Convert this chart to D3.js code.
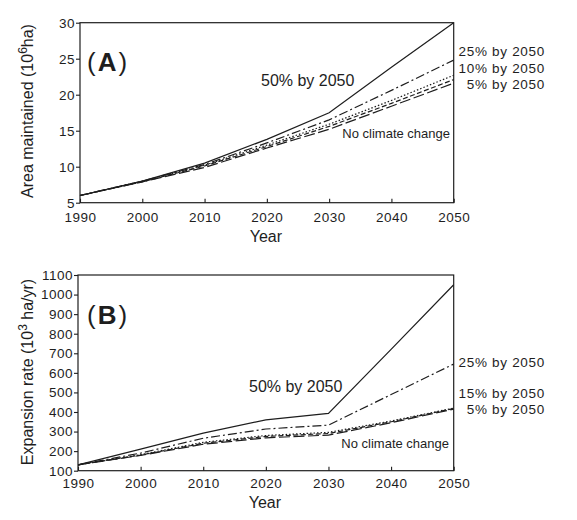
<!DOCTYPE html>
<html>
<head>
<meta charset="utf-8">
<script src="https://cdn.jsdelivr.net/npm/d3@7"></script>
<style>
  body { margin: 0; background: #fff; }
  svg { display: block; font-family: "Liberation Sans", Arial, sans-serif; }
</style>
</head>
<body>
<svg id="chart" width="577" height="520"></svg>
<script>
// Years shared by both panels
const years = [1990, 2000, 2010, 2020, 2030, 2040, 2050];
const yearTicks = [1990, 2000, 2010, 2020, 2030, 2040, 2050];

// Panel A: area maintained (10^6 ha)
const areaTicks = [5, 10, 15, 20, 25, 30];
const area50 = [6.0, 8.0, 10.5, 13.8, 17.5, 23.8, 30.0];
const area25 = [6.0, 8.0, 10.3, 13.3, 16.5, 20.6, 24.8];
const area10 = [6.0, 8.0, 10.2, 13.0, 15.9, 19.2, 22.7];
const area5 = [6.0, 7.9, 10.1, 12.8, 15.6, 18.8, 22.1];
const areaNone = [6.0, 7.9, 9.9, 12.6, 15.2, 18.4, 21.6];

// Panel B: expansion rate (10^3 ha/yr)
const rateTicks = [100, 200, 300, 400, 500, 600, 700, 800, 900, 1000, 1100];
const rate50 = [130, 210, 292, 360, 393, 720, 1050];
const rate25 = [130, 190, 266, 313, 333, 489, 645];
const rate15 = [130, 182, 245, 280, 296, 354, 420];
const rate5 = [130, 180, 240, 275, 290, 350, 418];
const rateNone = [130, 178, 235, 268, 282, 345, 415];

// line styles per scenario
const dashes = {
    s50: null,
    s25: "9,3,2,3",
    s10: "1.5,2",
    s5: "5,2.5",
    none: "11,3.5"
};

const svg = d3.select("#chart");
const ink = "#1e1e1e";

function panel(opt) {
    const x = d3.scaleLinear().domain([1990, 2050]).range([opt.left, 453.7]);
    const y = d3.scaleLinear().domain(opt.yDomain).range([opt.bottom, opt.top]);
    const g = svg.append("g");

    // frame
    g.append("rect")
        .attr("x", opt.left).attr("y", opt.top)
        .attr("width", 453.7 - opt.left).attr("height", opt.bottom - opt.top)
        .attr("fill", "none").attr("stroke", ink).attr("stroke-width", 1.2);

    // left axis, outward ticks
    const ay = g.append("g")
        .attr("transform", `translate(${opt.left},0)`)
        .call(d3.axisLeft(y).tickValues(opt.yTicks).tickSize(4).tickPadding(1)
            .tickFormat(d3.format("d")));
    ay.select(".domain").remove();
    ay.selectAll("line").attr("stroke", ink).attr("stroke-width", 1.1);
    ay.selectAll("text").attr("fill", ink).style("font-size", "13.5px")
        .style("letter-spacing", "0.5px")
        .style("font-family", "Liberation Sans, Arial, sans-serif");

    // bottom axis, inward ticks
    const ax = g.append("g")
        .attr("transform", `translate(0,${opt.bottom})`)
        .call(d3.axisBottom(x).tickValues(yearTicks).tickSize(-4).tickPadding(opt.xPad)
            .tickFormat(d3.format("d")));
    ax.select(".domain").remove();
    ax.selectAll("line").attr("stroke", ink).attr("stroke-width", 1.1);
    ax.selectAll("text").attr("fill", ink).style("font-size", "13.5px")
        .style("letter-spacing", "0.5px")
        .style("font-family", "Liberation Sans, Arial, sans-serif");

    g.append("text")
        .attr("x", (opt.left + 453.7) / 2 - 1).attr("y", opt.yearY)
        .attr("text-anchor", "middle").attr("fill", ink)
        .style("font-size", "16px").text("Year");

    // rotated y label with superscript
    const yl = g.append("text")
        .attr("transform", `translate(33,${opt.labelCy}) rotate(-90)`)
        .attr("text-anchor", "middle").attr("fill", ink)
        .style("font-size", "16px");
    yl.append("tspan").text(opt.yLabel[0]);
    yl.append("tspan").attr("dy", -6).style("font-size", "12px").text(opt.yLabel[1]);
    yl.append("tspan").attr("dy", 6).text(opt.yLabel[2]);

    // panel letter
    const pl = g.append("text")
        .attr("x", 87).attr("y", opt.letterY).attr("fill", ink)
        .style("font-size", "26px");
    pl.append("tspan").style("font-weight", "300").text("(");
    pl.append("tspan").style("font-weight", "bold").attr("dx", 2).text(opt.letter);
    pl.append("tspan").style("font-weight", "300").attr("dx", 2).text(")");

    const line = d3.line().x((d, i) => x(years[i])).y(d => y(d));
    opt.series.forEach(s => {
        g.append("path")
            .datum(s.values)
            .attr("d", line)
            .attr("fill", "none")
            .attr("stroke", ink)
            .attr("stroke-width", 1.2)
            .attr("stroke-dasharray", s.dash);
    });

    // annotations
    opt.notes.forEach(n => {
        g.append("text")
            .attr("x", n.x).attr("y", n.y)
            .attr("text-anchor", n.anchor || "start")
            .attr("fill", ink)
            .style("font-size", n.size + "px")
            .style("letter-spacing", (n.ls || 0) + "px")
            .text(n.text);
    });
}

panel({
    left: 80, top: 22.7, bottom: 202.7,
    yDomain: [5, 30], yTicks: areaTicks,
    xPad: 10, yearY: 242,
    labelCy: 111, yLabel: ["Area maintained (10", "6", "ha)"],
    letter: "A", letterY: 71,
    series: [
        { values: area50, dash: dashes.s50 },
        { values: area25, dash: dashes.s25 },
        { values: area10, dash: dashes.s10 },
        { values: area5, dash: dashes.s5 },
        { values: areaNone, dash: dashes.none }
    ],
    notes: [
        { text: "50% by 2050", x: 261, y: 86, size: 16 },
        { text: "No climate change", x: 450, y: 138, size: 13, anchor: "end" },
        { text: "25% by 2050", x: 545, y: 56, size: 13.5, ls: 0.7, anchor: "end" },
        { text: "10% by 2050", x: 545, y: 73, size: 13.5, ls: 0.7, anchor: "end" },
        { text: "5% by 2050", x: 545, y: 89, size: 13.5, ls: 0.7, anchor: "end" }
    ]
});

panel({
    left: 78, top: 275, bottom: 470.7,
    yDomain: [100, 1100], yTicks: rateTicks,
    xPad: 8, yearY: 508,
    labelCy: 372, yLabel: ["Expansion rate (10", "3", " ha/yr)"],
    letter: "B", letterY: 324,
    series: [
        { values: rate50, dash: dashes.s50 },
        { values: rate25, dash: dashes.s25 },
        { values: rate15, dash: dashes.s10 },
        { values: rate5, dash: dashes.s5 },
        { values: rateNone, dash: dashes.none }
    ],
    notes: [
        { text: "50% by 2050", x: 249, y: 392, size: 16 },
        { text: "No climate change", x: 449, y: 448, size: 13, anchor: "end" },
        { text: "25% by 2050", x: 545, y: 367, size: 13.5, ls: 0.7, anchor: "end" },
        { text: "15% by 2050", x: 545, y: 398, size: 13.5, ls: 0.7, anchor: "end" },
        { text: "5% by 2050", x: 545, y: 414, size: 13.5, ls: 0.7, anchor: "end" }
    ]
});
</script>
</body>
</html>
